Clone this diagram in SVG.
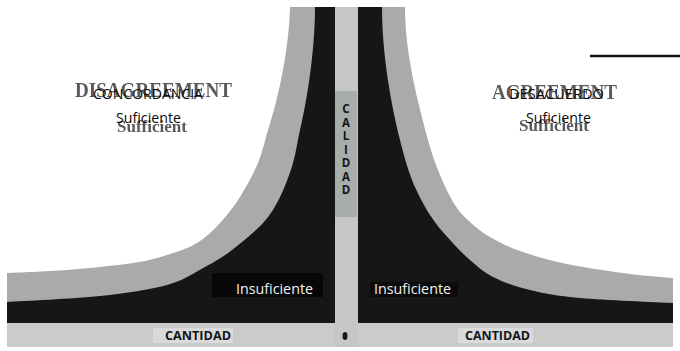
<svg xmlns="http://www.w3.org/2000/svg" width="680" height="351" viewBox="0 0 680 351">
<defs>
<filter id="blur" x="-10%" y="-30%" width="120%" height="160%"><feGaussianBlur stdDeviation="0.7"/></filter>
<style>
.gray{fill:#aaaaaa}
.black{fill:#161616}
.ghost{font-family:"Liberation Serif",serif;fill:#5a5a5a;filter:url(#blur)}
.lbl{font-family:"Open Sans","Liberation Sans",sans-serif;font-size:14px;fill:#0a0a0a}
.ins{font-family:"Open Sans","Liberation Sans",sans-serif;font-size:14.5px;fill:#f2f2f2}
.axis{font-family:"Open Sans","Liberation Sans",sans-serif;font-weight:bold;fill:#151515}
</style>
</defs>
<rect width="680" height="351" fill="#ffffff"/>

<g id="left-curve">
<path class="gray" d="M335,7 L290,7 C289,50 278,100 268,130 C264.8,140.5 262.7,151.8 258,163 C253.3,174.2 246.3,187 240,197 C233.7,207 227.2,215.3 220,223 C212.8,230.7 205.8,237.7 197,243 C188.2,248.3 177.7,251.7 167,255 C156.3,258.3 149.7,260.5 133,263 C116.3,265.5 88,268.3 67,270 C46,271.7 17,272.5 7,273 L7,323 L335,323 Z"/>
<path class="black" d="M335,7 L315,7 C315,50 307.2,100 300,130 C297.5,140.5 296.3,151.8 293,163 C289.7,174.2 285,187 280,197 C275,207 271,214.2 263,223 C255,231.8 241.7,242.7 232,250 C222.3,257.3 215.8,261.2 205,267 C194.2,272.8 184.5,280.2 167,285 C149.5,289.8 126.7,293.2 100,296 C73.3,298.8 22.5,301 7,302 L7,323 L335,323 Z"/>
</g>

<g id="right-curve">
<path class="gray" d="M358,7 L405,7 C405,55 418.7,105 428,140 C431.3,152.5 435.5,164.2 440,175 C444.5,185.8 450,197.2 455,205 C460,212.8 464.2,216.7 470,222 C475.8,227.3 481.7,232.2 490,237 C498.3,241.8 507.2,246.5 520,251 C532.8,255.5 548.7,260.2 567,264 C585.3,267.8 612.3,271.7 630,274 C647.7,276.3 665.8,277.3 673,278 L673,323 L358,323 Z"/>
<path class="black" d="M358,7 L382,7 C382,55 391.3,105 400,140 C403.3,153.3 407,167.5 412,180 C417,192.5 423.7,205 430,215 C436.3,225 443.3,232.5 450,240 C456.7,247.5 462.8,253.8 470,260 C477.2,266.2 483,272 493,277 C503,282 515.5,286.5 530,290 C544.5,293.5 556.2,295.8 580,298 C603.8,300.2 657.5,302.2 673,303 L673,323 L358,323 Z"/>
</g>

<g id="cantidad-axis">
<rect x="7" y="323" width="666" height="24" fill="#cbcbcb"/>
<rect x="153" y="328" width="80" height="15" fill="#dadada"/>
<rect x="458" y="328" width="75" height="15" fill="#dadada"/>
<text class="axis" x="165" y="340" font-size="12.5" textLength="66" lengthAdjust="spacingAndGlyphs">CANTIDAD</text>
<text class="axis" x="465" y="340" font-size="12.5" textLength="65" lengthAdjust="spacingAndGlyphs">CANTIDAD</text>
</g>

<g id="calidad-axis">
<rect x="335" y="7" width="23" height="340" fill="#c6c6c6"/>
<rect x="335" y="91" width="22" height="126" fill="#a7adab"/>
<g class="axis" font-size="11.5" text-anchor="middle">
<text x="346" y="113">C</text>
<text x="346" y="126.5">A</text>
<text x="346" y="140">L</text>
<text x="346" y="153.5">I</text>
<text x="346" y="167">D</text>
<text x="346" y="180.5">A</text>
<text x="346" y="194">D</text>
</g>
<ellipse cx="345" cy="336" rx="2.5" ry="4" fill="#1a1a1a"/>
</g>

<g id="ghost-text">
<text class="ghost" x="75" y="97" font-size="20" font-weight="bold" textLength="157" lengthAdjust="spacingAndGlyphs">DISAGREEMENT</text>
<text class="ghost" x="117" y="132" font-size="16" font-weight="bold" textLength="70" lengthAdjust="spacingAndGlyphs">Sufficient</text>
<text class="ghost" x="492" y="99" font-size="20" font-weight="bold" textLength="125" lengthAdjust="spacingAndGlyphs">AGREEMENT</text>
<text class="ghost" x="519" y="131" font-size="16" font-weight="bold" textLength="70" lengthAdjust="spacingAndGlyphs">Sufficient</text>
</g>

<g id="concordancia">
<text class="lbl" x="93" y="99" textLength="110" lengthAdjust="spacingAndGlyphs">CONCORDANCIA</text>
<text class="lbl" x="116" y="123" textLength="65" lengthAdjust="spacingAndGlyphs">Suficiente</text>
</g>

<g id="desacuerdo">
<text class="lbl" x="509" y="99" textLength="95" lengthAdjust="spacingAndGlyphs">DESACUERDO</text>
<text class="lbl" x="526" y="123" textLength="65" lengthAdjust="spacingAndGlyphs">Suficiente</text>
</g>

<g id="insuficiente-left">
<rect x="212" y="273" width="111" height="24" fill="#070707"/>
<text class="ins" x="236" y="294" textLength="77" lengthAdjust="spacingAndGlyphs">Insuficiente</text>
</g>

<g id="insuficiente-right">
<rect x="370" y="282" width="88" height="15" fill="#0b0b0b"/>
<text class="ins" x="374" y="294" textLength="77" lengthAdjust="spacingAndGlyphs">Insuficiente</text>
</g>

<line x1="590" y1="56" x2="680" y2="56" stroke="#111" stroke-width="2.5"/>
</svg>
